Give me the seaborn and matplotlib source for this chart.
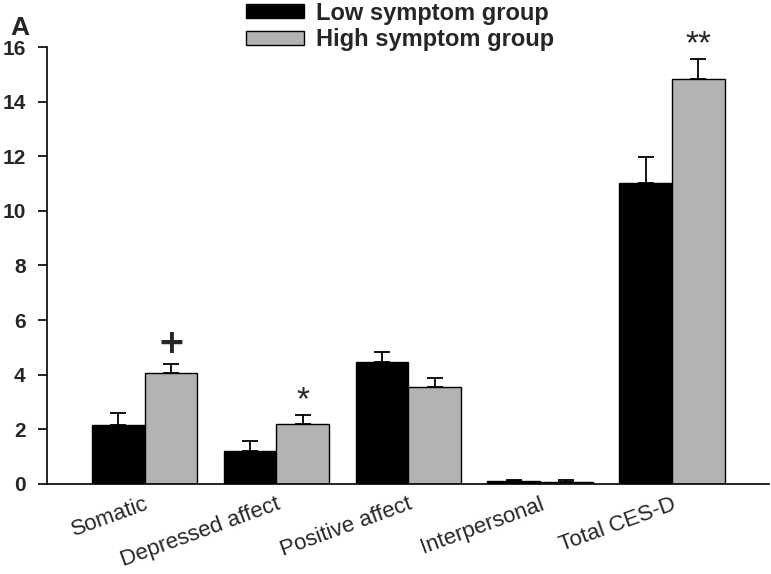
import numpy as np
import pandas as pd
import matplotlib
matplotlib.use('Agg')
import matplotlib.pyplot as plt
import seaborn as sns
from matplotlib.patches import Rectangle

categories = ['Somatic', 'Depressed affect', 'Positive affect', 'Interpersonal', 'Total CES-D']
groups = ['Low symptom group', 'High symptom group']
low_mean = [2.17, 1.19, 4.45, 0.09, 11.03]
low_err = [0.41, 0.38, 0.38, 0.05, 0.95]
high_mean = [4.05, 2.20, 3.56, 0.08, 14.83]
high_err = [0.34, 0.33, 0.33, 0.05, 0.73]
marks = ['+', '*', '', '', '**']

colors = {'Low symptom group': '#000000', 'High symptom group': '#b3b3b3'}

df = pd.DataFrame({
    'category': categories * 2,
    'group': [groups[0]] * len(categories) + [groups[1]] * len(categories),
    'value': low_mean + high_mean,
})

sns.set_style('white')
plt.rcParams['font.family'] = ['Liberation Sans', 'DejaVu Sans']

fig = plt.figure(figsize=(7.71, 5.74), dpi=100)
ax = fig.add_axes([0.061, 0.157, 0.937, 0.761])

sns.barplot(data=df, x='category', y='value', hue='group', hue_order=groups,
            palette=colors, edgecolor='black', linewidth=1.0, width=0.8,
            errorbar=None, legend=False, ax=ax)

# upper error bars only
for cont, means, errs in zip(ax.containers, [low_mean, high_mean], [low_err, high_err]):
    xs = [p.get_x() + p.get_width() / 2 for p in cont.patches]
    ax.errorbar(xs, means, yerr=[np.zeros(len(errs)), errs], fmt='none',
                ecolor='black', elinewidth=1.3, capsize=6, capthick=1.3, zorder=3)

# significance marks above the high group
high_x = [p.get_x() + p.get_width() / 2 for p in ax.containers[1].patches]
for x, m, e, s in zip(high_x, high_mean, high_err, marks):
    if not s:
        continue
    if s == '+':
        ax.text(x, m + e + 0.15, s, ha='center', va='bottom', fontsize=24,
                fontweight='bold', family=['DejaVu Sans'], clip_on=False)
    else:
        ax.text(x, m + e - 0.05, s, ha='center', va='bottom', fontsize=24,
                clip_on=False)

ax.set_xlim(-0.74, 4.74)
ax.set_ylim(0, 16)
ax.set_yticks(range(0, 17, 2))
ax.set_yticklabels([str(v) for v in range(0, 17, 2)], fontsize=15, fontweight='bold')
ax.set_xticks(range(len(categories)))
ax.set_xticklabels(categories, fontsize=16, rotation=20, ha='right', rotation_mode='anchor')
ax.tick_params(axis='y', direction='out', length=6.5, width=1.2, color='black', pad=9, left=True)
ax.tick_params(axis='x', length=0, pad=7)
ax.set_xlabel('')
ax.set_ylabel('')
for side in ['top', 'right']:
    ax.spines[side].set_visible(False)
for side in ['left', 'bottom']:
    ax.spines[side].set_color('black')
    ax.spines[side].set_linewidth(1.2)

handles = [Rectangle((0, 0), 1, 1, facecolor=colors[g], edgecolor='black', linewidth=1.0) for g in groups]
fig.legend(handles, groups, loc='upper left', bbox_to_anchor=(0.319, 0.997), frameon=False,
           prop={'size': 17, 'weight': 'bold'}, handlelength=2.45, handleheight=0.55,
           handletextpad=0.5, labelspacing=0.15, borderaxespad=0, borderpad=0)

fig.text(0.013, 0.972, 'A', fontsize=19, fontweight='bold', ha='left', va='top')

fig.savefig('out.png', dpi=100)
